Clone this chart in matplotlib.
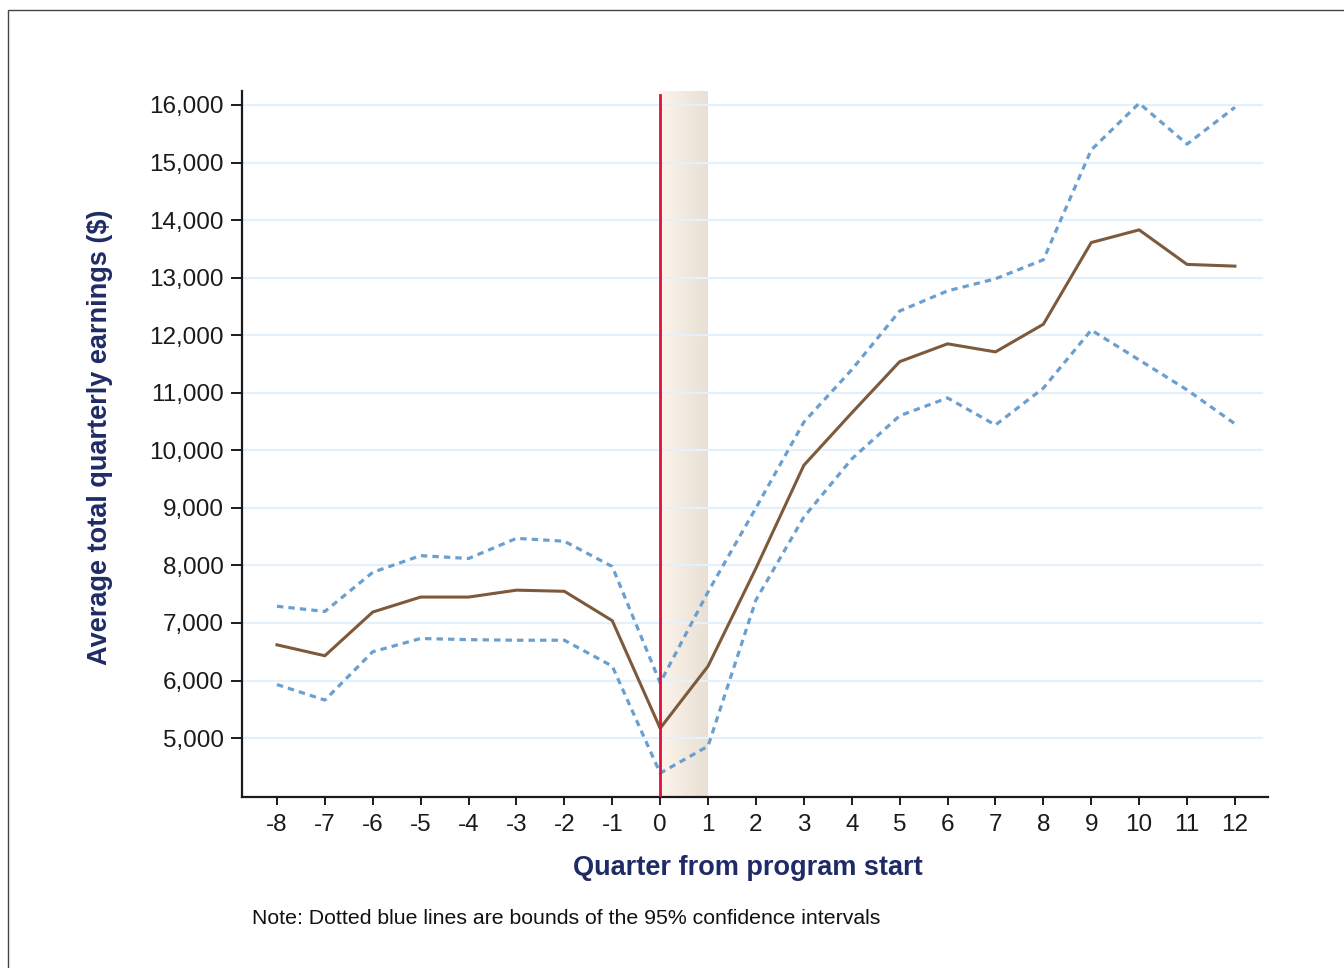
import numpy as np
import matplotlib
matplotlib.use('Agg')
import matplotlib.pyplot as plt
from matplotlib.colors import LinearSegmentedColormap
from matplotlib.patches import Rectangle

plt.rcParams['font.family'] = ['Liberation Sans', 'DejaVu Sans']

# quarters relative to program start
quarters = list(range(-8, 13))

# average earnings and 95% CI bounds
earnings = [6620, 6430, 7190, 7450, 7450, 7570, 7550, 7040, 5170, 6250, 7950,
            9740, 10650, 11540, 11850, 11710, 12190, 13610, 13830, 13230, 13200]
upper_ci = [7290, 7200, 7880, 8170, 8120, 8470, 8420, 7980, 5960, 7540, 9000,
            10490, 11400, 12420, 12770, 12980, 13310, 15220, 16030, 15320, 15960]
lower_ci = [5930, 5660, 6500, 6730, 6710, 6700, 6700, 6250, 4390, 4860, 7400,
            8840, 9850, 10600, 10910, 10440, 11080, 12090, 11570, 11050, 10460]

ytick_vals = list(range(5000, 16001, 1000))

navy = '#1f2b66'

fig = plt.figure(figsize=(13.44, 9.68), dpi=100)

# thin frame round the figure (runs off the right and bottom edges)
fig.patches.append(Rectangle((8 / 1344, -0.1), 1.2, 1 - 10 / 968 + 0.1,
                             transform=fig.transFigure, fill=False,
                             edgecolor='#444444', linewidth=1.0))

ax = fig.add_axes([242 / 1344, 1 - 797 / 968, (1268 - 242) / 1344, (797 - 91) / 968])
ylo, yhi = 3976, 16243
ax.set_xlim(-8.73, 12.69)
ax.set_ylim(ylo, yhi)

# shaded first quarter with a soft gradient
grad = np.linspace(0, 1, 256).reshape(1, -1)
cmap = LinearSegmentedColormap.from_list('sand', ['#fdf4ec', '#e8e0d4'])
ax.imshow(grad, extent=[0, 1, ylo, yhi], aspect='auto', cmap=cmap, zorder=0.5)

# horizontal gridlines
for v in ytick_vals:
    ax.axhline(v, xmin=0, xmax=0.994, color='#e4f1fa', lw=1.6, zorder=1)

ax.plot(quarters, upper_ci, color='#6a9fcf', lw=2.3, ls=(0, (2.0, 1.6)), zorder=3)
ax.plot(quarters, lower_ci, color='#6a9fcf', lw=2.3, ls=(0, (2.0, 1.6)), zorder=3)
ax.plot(quarters, earnings, color='#7d5a3c', lw=2.2, zorder=4)

ax.axvline(0, ymin=0, ymax=(16174 - ylo) / (yhi - ylo), color='#e0103c', lw=2.0, zorder=5)

for s in ['top', 'right']:
    ax.spines[s].set_visible(False)
for s in ['left', 'bottom']:
    ax.spines[s].set_linewidth(1.6)
    ax.spines[s].set_color('#1a1a1a')

ax.set_xticks(quarters)
ax.set_xticklabels([str(q) for q in quarters])
ax.set_yticks(ytick_vals)
ax.set_yticklabels([f'{v:,}' for v in ytick_vals])
ax.tick_params(axis='y', length=8, width=1.4, pad=5, labelsize=17.5, colors='#1a1a1a')
ax.tick_params(axis='x', length=6, width=1.4, pad=6, labelsize=17.5, colors='#1a1a1a')

ax.set_ylabel('Average total quarterly earnings ($)', fontsize=19.5, fontweight='bold',
              color=navy, va='center')
ax.yaxis.set_label_coords((100 - 242) / 1026, (797 - 437) / 706)
ax.set_xlabel('Quarter from program start', fontsize=19.5, fontweight='bold',
              color=navy, va='center')
ax.xaxis.set_label_coords((748 - 242) / 1026, (797 - 868) / 706)

fig.text(252 / 1344, 1 - 918 / 968, 'Note: Dotted blue lines are bounds of the 95% confidence intervals',
         fontsize=15.3, color='#111111', va='center', ha='left')

fig.savefig('out.png', dpi=100)
